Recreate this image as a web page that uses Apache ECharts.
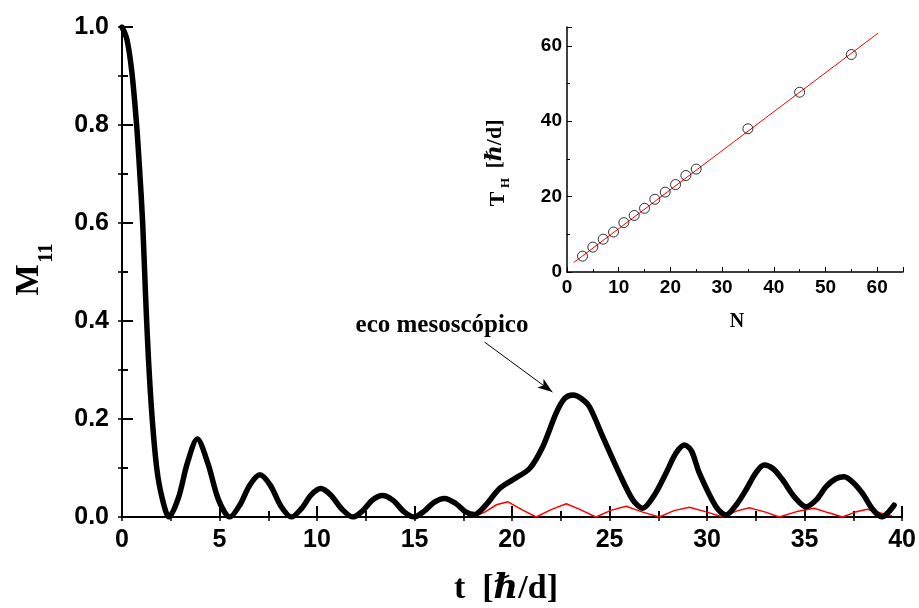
<!DOCTYPE html>
<html>
<head>
<meta charset="utf-8">
<script src="https://cdn.jsdelivr.net/npm/echarts@6/dist/echarts.min.js"></script>
<style>
html,body{margin:0;padding:0;background:#fff;}
#c{width:919px;height:608px;}
</style>
</head>
<body>
<div id="c"></div>
<script>
// Main curve M11(t): black (with echo) and red (reference)
const tBlack = [0,0.25,0.5,0.75,0.9,1.06,1.21,1.36,1.55,1.78,2.05,2.41,2.9,3.35,3.86,4.4,4.95,5.53,6.05,6.55,7.07,7.6,8.15,8.69,9.2,9.7,10.19,10.7,11.3,11.85,12.35,12.85,13.35,13.9,14.45,14.97,15.5,16.0,16.54,17.1,17.6,18.08,18.6,19.36,20.04,20.9,21.58,22.26,22.7,23.12,23.55,23.97,24.65,25.5,26.19,26.7,27.3,27.9,28.4,28.84,29.2,29.6,30.46,30.97,31.5,31.99,32.5,32.93,33.4,33.87,34.5,35.07,35.6,36.1,36.6,37.03,37.5,37.97,38.5,38.99,39.3,39.59];
const mBlack = [1.0,0.975,0.91,0.8,0.71,0.6,0.45,0.32,0.2,0.1,0.04,0.0,0.04,0.11,0.159,0.11,0.035,0.0,0.025,0.065,0.086,0.065,0.022,0.0,0.017,0.045,0.058,0.045,0.015,0.0,0.013,0.035,0.044,0.034,0.011,0.0,0.012,0.03,0.038,0.028,0.011,0.005,0.022,0.058,0.076,0.099,0.144,0.212,0.242,0.249,0.242,0.225,0.164,0.089,0.035,0.018,0.045,0.09,0.13,0.147,0.135,0.09,0.021,0.004,0.025,0.055,0.09,0.106,0.098,0.076,0.04,0.021,0.035,0.062,0.078,0.082,0.07,0.048,0.015,0.0,0.01,0.024];
const tRed = [18.0,18.6,19.2,19.79,20.5,21.24,22.0,22.78,23.5,24.3,25.1,25.85,26.7,27.55,28.3,29.09,30.0,30.8,31.5,32.16,33.0,33.7,34.6,35.49,36.2,36.94,37.6,38.22,38.9,39.5];
const mRed = [0,0.01,0.025,0.031,0.015,0,0.015,0.027,0.015,0,0.014,0.022,0.01,0,0.013,0.02,0.01,0,0.012,0.019,0.01,0,0.011,0.018,0.009,0,0.01,0.016,0.008,0.002];
// Inset: T_H versus N
const nInset = [3,5,7,9,11,13,15,17,19,21,23,25,35,45,55];
const thInset = [4.2,6.6,8.7,10.6,13.1,15.0,16.9,19.3,21.2,23.2,25.6,27.3,38.0,47.7,57.7];
const nFit = [1.3,60.2];
const thFit = [2.5,63.4];
// Annotation arrow (data coords)
const arrowFrom = [18.59,0.357];
const arrowTo = [22.07,0.255];
const annotationText = 'eco mesoscópico';

const zip = (a,b) => a.map((v,i)=>[v,b[i]]);
const chart = echarts.init(document.getElementById('c'), null, {renderer:'canvas'});
const sans = 'Liberation Sans, Arial, sans-serif';
const serif = 'Liberation Serif, Times New Roman, DejaVu Serif, serif';
const black = '#000';

const hidden = {show:false};
const option = {
  backgroundColor:'#fff',
  animation:false,
  grid:[
    {left:122, right:16, top:27, bottom:91, containLabel:false},
    {left:567, right:16, top:27, bottom:336, containLabel:false}
  ],
  xAxis:[
    {gridIndex:0, type:'value', min:0, max:40, interval:5, position:'bottom',
     axisLine:{lineStyle:{color:black,width:2}},
     axisTick:{inside:true,length:11,lineStyle:{color:black,width:2}},
     minorTick:{show:true,splitNumber:2,length:6,lineStyle:{color:black,width:2}},
     splitLine:hidden,
     axisLabel:{fontSize:25,fontWeight:'bold',fontFamily:sans,color:black,margin:11}},
    {gridIndex:0, type:'value', min:0, max:40, interval:2.5, position:'top',
     axisLine:{lineStyle:{color:black,width:2}},
     axisTick:{inside:true,length:4,lineStyle:{color:black,width:1.5}},
     splitLine:hidden, axisLabel:hidden},
    {gridIndex:1, type:'value', min:0, max:65, interval:10, position:'bottom',
     axisLine:{lineStyle:{color:black,width:1.5}},
     axisTick:{inside:true,length:5,lineStyle:{color:black,width:1}},
     minorTick:{show:true,splitNumber:2,length:3,lineStyle:{color:black,width:1}},
     splitLine:hidden,
     axisLabel:{fontSize:19,fontWeight:'bold',fontFamily:sans,color:black,margin:6,showMaxLabel:false,
       formatter:v=> (v%10===0? String(v):'')}}
  ],
  yAxis:[
    {gridIndex:0, type:'value', min:0, max:1, interval:0.2, position:'left',
     axisLine:{lineStyle:{color:black,width:2}},
     axisTick:{inside:true,length:11,lineStyle:{color:black,width:2}},
     minorTick:{show:true,splitNumber:2,length:6,lineStyle:{color:black,width:2}},
     splitLine:hidden,
     axisLabel:{fontSize:25,fontWeight:'bold',fontFamily:sans,color:black,margin:13,formatter:v=>v.toFixed(1)}},
    {gridIndex:0, type:'value', min:0, max:1, interval:0.1, position:'right',
     axisLine:{lineStyle:{color:black,width:2}},
     axisTick:{inside:true,length:4,lineStyle:{color:black,width:1.5}},
     splitLine:hidden, axisLabel:hidden},
    {gridIndex:1, type:'value', min:0, max:65, interval:20, position:'left',
     axisLine:{lineStyle:{color:black,width:1.5}},
     axisTick:{inside:true,length:5,lineStyle:{color:black,width:1}},
     minorTick:{show:true,splitNumber:2,length:3,lineStyle:{color:black,width:1}},
     splitLine:hidden,
     axisLabel:{fontSize:19,fontWeight:'bold',fontFamily:sans,color:black,margin:5,showMaxLabel:false,
       formatter:v=> (v%20===0? String(v):'')}}
  ],
  series:[
    {type:'line', xAxisIndex:0, yAxisIndex:0, data:zip(tRed,mRed), showSymbol:false, symbol:'none',
     lineStyle:{color:'#ff0000',width:1.5}, z:2},
    {type:'line', xAxisIndex:0, yAxisIndex:0, data:zip(tBlack,mBlack), showSymbol:false, symbol:'none',
     smooth:0.3, lineStyle:{color:black,width:5.5,join:'round',cap:'round'}, z:3,
     markLine:{silent:true, symbol:['none','arrow'], label:{show:false},
       lineStyle:{color:black,width:1,type:'solid'},
       data:[[{coord:arrowFrom, symbol:'none'},{coord:arrowTo, symbol:'arrow', symbolSize:[8,15]}]]}},
    {type:'line', xAxisIndex:2, yAxisIndex:2, data:zip(nFit,thFit), showSymbol:false, symbol:'none',
     lineStyle:{color:'#ff0000',width:1}, z:2},
    {type:'scatter', xAxisIndex:2, yAxisIndex:2, data:zip(nInset,thInset), symbol:'circle', symbolSize:10,
     itemStyle:{color:'rgba(0,0,0,0)',borderColor:black,borderWidth:1}, z:3}
  ],
  graphic:[
    {type:'text', x:29, y:280, rotation:Math.PI/2, style:{text:'M', font:'bold 33px '+serif, fill:black, align:'center', verticalAlign:'middle'}},
    {type:'text', x:47, y:253, rotation:Math.PI/2, style:{text:'11', font:'bold 20px '+serif, fill:black, align:'center', verticalAlign:'middle'}},
    {type:'text', x:506, y:589, style:{
       text:'{a|t  [}{h|ℏ}{a|/d]}', align:'center', verticalAlign:'middle',
       rich:{a:{font:'bold 34px '+serif, fill:black}, h:{font:'italic bold 34px '+serif, fill:black}}}},
    {type:'text', x:442, y:326, style:{text:annotationText, font:'bold 25px '+serif, fill:black, align:'center', verticalAlign:'middle'}},
    {type:'text', x:737, y:322, style:{text:'N', font:'bold 20px '+serif, fill:black, align:'center', verticalAlign:'middle'}},
    {type:'text', x:498, y:199, rotation:Math.PI/2, style:{text:'T', font:'bold 22px '+serif, fill:black, align:'center', verticalAlign:'middle'}},
    {type:'text', x:506, y:183, rotation:Math.PI/2, style:{text:'H', font:'bold 13px '+serif, fill:black, align:'center', verticalAlign:'middle'}},
    {type:'text', x:495, y:144, rotation:Math.PI/2, style:{
       text:'{a|[}{h|ℏ}{a|/d]}', align:'center', verticalAlign:'middle',
       rich:{a:{font:'bold 22px '+serif, fill:black}, h:{font:'italic bold 22px '+serif, fill:black}}}}
  ]
};
chart.setOption(option);
</script>
</body>
</html>
